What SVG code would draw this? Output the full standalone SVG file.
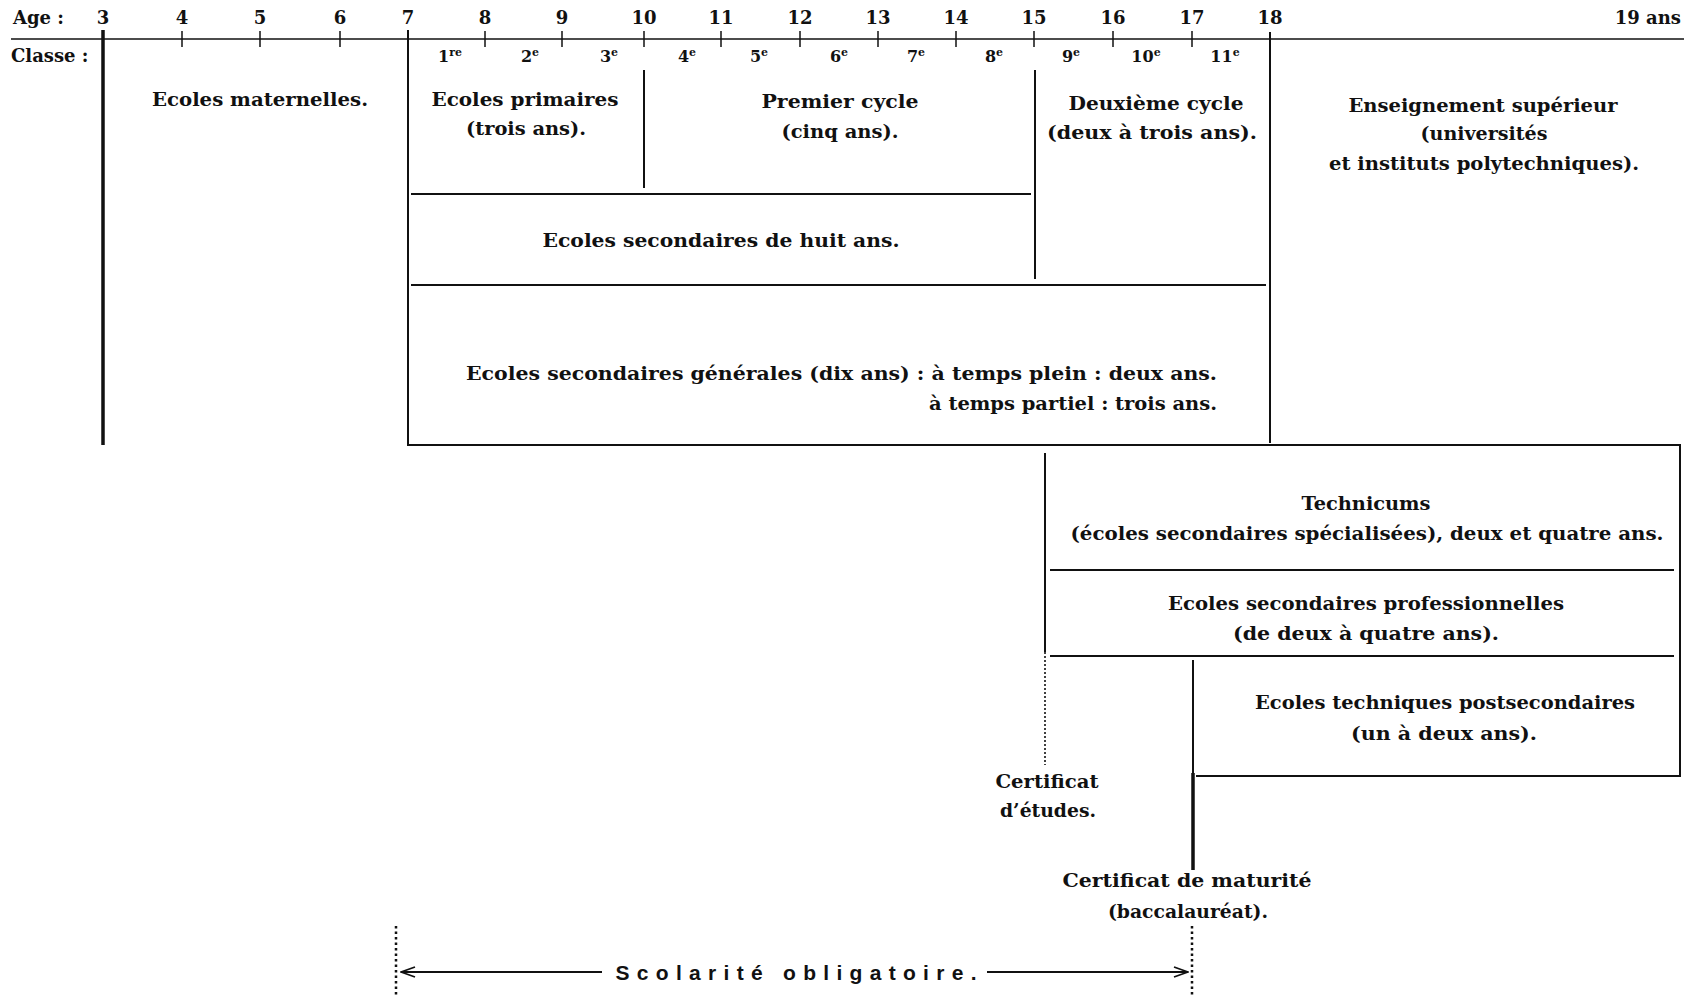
<svg xmlns="http://www.w3.org/2000/svg" width="1701" height="995" viewBox="0 0 1701 995">
<style>
  .t{font-family:"DejaVu Serif","Liberation Serif",serif;font-weight:bold;font-size:19px;fill:#111;text-anchor:middle}
  .n{font-family:"DejaVu Serif","Liberation Serif",serif;font-weight:bold;font-size:18px;fill:#111;text-anchor:middle}
  .c{font-family:"DejaVu Serif","Liberation Serif",serif;font-weight:bold;font-size:16px;fill:#111;text-anchor:middle}
  .l{text-anchor:start}
  .r{text-anchor:end}
  .s{font-family:"Liberation Sans",sans-serif;font-weight:bold;font-size:21px;fill:#111;text-anchor:middle}
  .ln{stroke:#111;stroke-width:2;fill:none}
  .thick{stroke-width:3.5}
  .thin{stroke-width:1.5}
  .dot{stroke-dasharray:2 2;stroke-width:1.6}
  .dot2{stroke-dasharray:2.5 3;stroke-width:2.5}
</style>
<defs>
  <marker id="ah" viewBox="0 0 16 12" refX="15" refY="6" markerWidth="16" markerHeight="12" markerUnits="userSpaceOnUse" orient="auto-start-reverse">
    <path d="M1,1 L15,6 L1,11" fill="none" stroke="#111" stroke-width="1.8"/>
  </marker>
</defs>
<rect width="1701" height="995" fill="#fff"/>

<g id="connectors">
  <!-- age axis -->
  <line class="ln thin" x1="11" y1="39" x2="1684" y2="39"/>
  <g class="ln thin">
    <line x1="182" y1="31" x2="182" y2="47"/>
    <line x1="260" y1="31" x2="260" y2="47"/>
    <line x1="340" y1="31" x2="340" y2="47"/>
    <line x1="485" y1="31" x2="485" y2="47"/>
    <line x1="562" y1="31" x2="562" y2="47"/>
    <line x1="644" y1="31" x2="644" y2="47"/>
    <line x1="721" y1="31" x2="721" y2="47"/>
    <line x1="800" y1="31" x2="800" y2="47"/>
    <line x1="878" y1="31" x2="878" y2="47"/>
    <line x1="956" y1="31" x2="956" y2="47"/>
    <line x1="1034" y1="31" x2="1034" y2="47"/>
    <line x1="1113" y1="31" x2="1113" y2="47"/>
    <line x1="1192" y1="31" x2="1192" y2="47"/>
  </g>
  <!-- main verticals -->
  <line class="ln thick" x1="103" y1="30" x2="103" y2="445"/>
  <line class="ln" x1="408" y1="30" x2="408" y2="446"/>
  <line class="ln" x1="1270" y1="32" x2="1270" y2="443"/>
  <line class="ln" x1="644" y1="70" x2="644" y2="188"/>
  <line class="ln" x1="1035" y1="70" x2="1035" y2="279"/>
  <!-- horizontals -->
  <line class="ln" x1="411" y1="194" x2="1031" y2="194"/>
  <line class="ln" x1="411" y1="285" x2="1266" y2="285"/>
  <line class="ln" x1="407" y1="445" x2="1681" y2="445"/>
  <line class="ln" x1="1680" y1="445" x2="1680" y2="777"/>
  <!-- technical block -->
  <line class="ln" x1="1045" y1="453" x2="1045" y2="652"/>
  <line class="ln dot" x1="1045" y1="652" x2="1045" y2="765"/>
  <line class="ln" x1="1050" y1="570" x2="1674" y2="570"/>
  <line class="ln" x1="1050" y1="656" x2="1674" y2="656"/>
  <line class="ln" x1="1193" y1="660" x2="1193" y2="773"/>
  <line class="ln thick" x1="1193" y1="773" x2="1193" y2="870"/>
  <line class="ln" x1="1196" y1="776" x2="1681" y2="776"/>
  <!-- compulsory schooling -->
  <line class="ln dot2" x1="396" y1="926" x2="396" y2="995"/>
  <line class="ln dot2" x1="1192" y1="926" x2="1192" y2="995"/>
  <line class="ln" x1="401" y1="972" x2="602" y2="972" marker-start="url(#ah)"/>
  <line class="ln" x1="987" y1="972" x2="1188" y2="972" marker-end="url(#ah)"/>
</g>

<g id="axis-labels">
  <text class="n l" x="13" y="24">Age :</text>
  <text class="n l" x="11" y="62">Classe :</text>
  <text class="n" x="103" y="24">3</text>
  <text class="n" x="182" y="24">4</text>
  <text class="n" x="260" y="24">5</text>
  <text class="n" x="340" y="24">6</text>
  <text class="n" x="408" y="24">7</text>
  <text class="n" x="485" y="24">8</text>
  <text class="n" x="562" y="24">9</text>
  <text class="n" x="644" y="24">10</text>
  <text class="n" x="721" y="24">11</text>
  <text class="n" x="800" y="24">12</text>
  <text class="n" x="878" y="24">13</text>
  <text class="n" x="956" y="24">14</text>
  <text class="n" x="1034" y="24">15</text>
  <text class="n" x="1113" y="24">16</text>
  <text class="n" x="1192" y="24">17</text>
  <text class="n" x="1270" y="24">18</text>
  <text class="n r" x="1681" y="24">19 ans</text>
  <text class="c" x="450" y="62">1<tspan font-size="11" dy="-6">re</tspan></text>
  <text class="c" x="530" y="62">2<tspan font-size="11" dy="-6">e</tspan></text>
  <text class="c" x="609" y="62">3<tspan font-size="11" dy="-6">e</tspan></text>
  <text class="c" x="687" y="62">4<tspan font-size="11" dy="-6">e</tspan></text>
  <text class="c" x="759" y="62">5<tspan font-size="11" dy="-6">e</tspan></text>
  <text class="c" x="839" y="62">6<tspan font-size="11" dy="-6">e</tspan></text>
  <text class="c" x="916" y="62">7<tspan font-size="11" dy="-6">e</tspan></text>
  <text class="c" x="994" y="62">8<tspan font-size="11" dy="-6">e</tspan></text>
  <text class="c" x="1071" y="62">9<tspan font-size="11" dy="-6">e</tspan></text>
  <text class="c" x="1146" y="62">10<tspan font-size="11" dy="-6">e</tspan></text>
  <text class="c" x="1225" y="62">11<tspan font-size="11" dy="-6">e</tspan></text>
</g>

<g id="maternelles"><text class="t" x="260" y="106" textLength="216" lengthAdjust="spacingAndGlyphs">Ecoles maternelles.</text></g>
<g id="primaires">
  <text class="t" x="525" y="106" textLength="187" lengthAdjust="spacingAndGlyphs">Ecoles primaires</text>
  <text class="t" x="526" y="135" textLength="120" lengthAdjust="spacingAndGlyphs">(trois ans).</text>
</g>
<g id="premier-cycle">
  <text class="t" x="840" y="108" textLength="157" lengthAdjust="spacingAndGlyphs">Premier cycle</text>
  <text class="t" x="840" y="138" textLength="117" lengthAdjust="spacingAndGlyphs">(cinq ans).</text>
</g>
<g id="deuxieme-cycle">
  <text class="t" x="1156" y="110" textLength="175" lengthAdjust="spacingAndGlyphs">Deuxième cycle</text>
  <text class="t" x="1152" y="139" textLength="210" lengthAdjust="spacingAndGlyphs">(deux à trois ans).</text>
</g>
<g id="superieur">
  <text class="t" x="1483" y="112" textLength="269" lengthAdjust="spacingAndGlyphs">Enseignement supérieur</text>
  <text class="t" x="1484" y="140" textLength="127" lengthAdjust="spacingAndGlyphs">(universités</text>
  <text class="t" x="1484" y="170" textLength="310" lengthAdjust="spacingAndGlyphs">et instituts polytechniques).</text>
</g>
<g id="huit-ans"><text class="t" x="721" y="247" textLength="357" lengthAdjust="spacingAndGlyphs">Ecoles secondaires de huit ans.</text></g>
<g id="generales">
  <text class="t l" x="466" y="380" textLength="751" lengthAdjust="spacingAndGlyphs">Ecoles secondaires générales (dix ans) : à temps plein : deux ans.</text>
  <text class="t l" x="929" y="410" textLength="288" lengthAdjust="spacingAndGlyphs">à temps partiel : trois ans.</text>
</g>
<g id="technicums">
  <text class="t" x="1366" y="510" textLength="129" lengthAdjust="spacingAndGlyphs">Technicums</text>
  <text class="t" x="1367" y="540" textLength="593" lengthAdjust="spacingAndGlyphs">(écoles secondaires spécialisées), deux et quatre ans.</text>
</g>
<g id="professionnelles">
  <text class="t" x="1366" y="610" textLength="396" lengthAdjust="spacingAndGlyphs">Ecoles secondaires professionnelles</text>
  <text class="t" x="1366" y="640" textLength="266" lengthAdjust="spacingAndGlyphs">(de deux à quatre ans).</text>
</g>
<g id="postsecondaires">
  <text class="t" x="1445" y="709" textLength="380" lengthAdjust="spacingAndGlyphs">Ecoles techniques postsecondaires</text>
  <text class="t" x="1444" y="740" textLength="186" lengthAdjust="spacingAndGlyphs">(un à deux ans).</text>
</g>
<g id="certificat-etudes">
  <text class="t" x="1047" y="788" textLength="103" lengthAdjust="spacingAndGlyphs">Certificat</text>
  <text class="t" x="1048" y="817" textLength="96" lengthAdjust="spacingAndGlyphs">d’études.</text>
</g>
<g id="certificat-maturite">
  <text class="t" x="1187" y="887" textLength="249" lengthAdjust="spacingAndGlyphs">Certificat de maturité</text>
  <text class="t" x="1188" y="918" textLength="160" lengthAdjust="spacingAndGlyphs">(baccalauréat).</text>
</g>
<g id="scolarite"><text class="s" x="796" y="980" textLength="361" lengthAdjust="spacing">Scolarité obligatoire.</text></g>
</svg>
